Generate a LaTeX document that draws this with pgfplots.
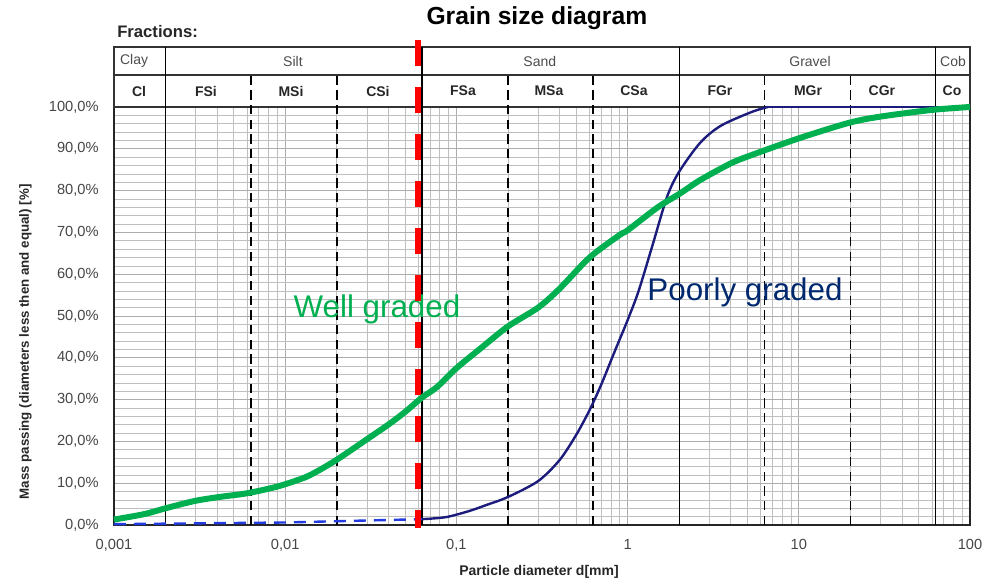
\documentclass[border=0pt]{standalone}
\usepackage{fontspec}
\setmainfont{Liberation Sans}
\usepackage{pgfplots}
\pgfplotsset{compat=1.18}
\definecolor{wgreen}{RGB}{0,176,80}
\definecolor{pnavy}{RGB}{28,28,125}
\definecolor{tnavy}{RGB}{0,40,110}
\definecolor{dblue}{RGB}{35,60,225}
\definecolor{tgray}{RGB}{70,70,70}
\begin{document}
\begin{tikzpicture}
\begin{axis}[
  at={(0,0)}, anchor=south west,
  scale only axis, width=642pt, height=313.5pt,
  xmode=log, xmin=0.001, xmax=100, ymin=0, ymax=100,
  xtick={0.001,0.01,0.1,1,10,100},
  xticklabels={{0,001},{0,01},{0,1},1,10,100},
  minor xtick={0.002,0.003,0.004,0.005,0.006,0.007,0.008,0.009,
               0.02,0.03,0.04,0.05,0.06,0.07,0.08,0.09,
               0.2,0.3,0.4,0.5,0.6,0.7,0.8,0.9,
               2,3,4,5,6,7,8,9,20,30,40,50,60,70,80,90},
  ytick={0,10,20,30,40,50,60,70,80,90,100},
  yticklabels={{0,0\%},{10,0\%},{20,0\%},{30,0\%},{40,0\%},{50,0\%},{60,0\%},{70,0\%},{80,0\%},{90,0\%},{100,0\%}},
  minor ytick={2,4,6,8,12,14,16,18,22,24,26,28,32,34,36,38,42,44,46,48,52,54,56,58,62,64,66,68,72,74,76,78,82,84,86,88,92,94,96,98},
  grid=both,
  major grid style={gray!65, line width=0.6pt},
  minor grid style={gray!50, line width=0.5pt},
  major tick length=0pt, minor tick length=0pt,
  tick label style={font=\fontsize{11}{13}\selectfont, text=tgray},
  xticklabel style={yshift=-7pt},
  yticklabel style={xshift=-8pt},
  axis line style={black!85, line width=0.8pt},
  clip=false,
]
% invisible frame that fixes the picture size
\path (rel axis cs:-0.13318,-0.13636) rectangle (rel axis cs:1.02804,1.25598);

% header table
\draw[black!80, line width=0.8pt] (axis cs:0.001,100) rectangle (axis cs:100,114.35);
\draw[black!80, line width=0.8pt] (axis cs:0.001,107.66) -- (axis cs:100,107.66);
\pgfplotsinvokeforeach{0.002,0.063,2,63}{
  \draw[black, line width=0.9pt] (axis cs:#1,0) -- (axis cs:#1,114.35);
}
\pgfplotsinvokeforeach{0.0063,0.02,0.2,0.63,6.3,20}{
  \draw[black, line width=1.2pt, dash pattern=on 7pt off 4pt] (axis cs:#1,0) -- (axis cs:#1,107.66);
}
% row 1
\node[font=\fontsize{10.5}{12}\selectfont, text=black!70] at (axis cs:0.00131,111.0) {Clay};
\node[font=\fontsize{10.5}{12}\selectfont, text=black!70] at (axis cs:0.0111,111.0) {Silt};
\node[font=\fontsize{10.5}{12}\selectfont, text=black!70] at (axis cs:0.307,111.0) {Sand};
\node[font=\fontsize{10.5}{12}\selectfont, text=black!70] at (axis cs:11.63,111.0) {Gravel};
\node[font=\fontsize{10.5}{12}\selectfont, text=black!70] at (axis cs:79.6,111.0) {Cob};
% row 2
\node[font=\bfseries\fontsize{10.5}{12}\selectfont, text=black!85] at (axis cs:0.0014,103.8) {Cl};
\node[font=\bfseries\fontsize{10.5}{12}\selectfont, text=black!85] at (axis cs:0.003447,103.8) {FSi};
\node[font=\bfseries\fontsize{10.5}{12}\selectfont, text=black!85] at (axis cs:0.01081,103.8) {MSi};
\node[font=\bfseries\fontsize{10.5}{12}\selectfont, text=black!85] at (axis cs:0.03483,103.8) {CSi};
\node[font=\bfseries\fontsize{10.5}{12}\selectfont, text=black!85] at (axis cs:0.1093,103.8) {FSa};
\node[font=\bfseries\fontsize{10.5}{12}\selectfont, text=black!85] at (axis cs:0.3474,103.8) {MSa};
\node[font=\bfseries\fontsize{10.5}{12}\selectfont, text=black!85] at (axis cs:1.090,103.8) {CSa};
\node[font=\bfseries\fontsize{10.5}{12}\selectfont, text=black!85] at (axis cs:3.465,103.8) {FGr};
\node[font=\bfseries\fontsize{10.5}{12}\selectfont, text=black!85] at (axis cs:11.32,103.8) {MGr};
\node[font=\bfseries\fontsize{10.5}{12}\selectfont, text=black!85] at (axis cs:30.6,103.8) {CGr};
\node[font=\bfseries\fontsize{10.5}{12}\selectfont, text=black!85] at (axis cs:78.5,103.8) {Co};

% curves
\addplot[dblue, line width=1.8pt, dash pattern=on 9pt off 6pt] coordinates {(0.001,0.2) (0.01,0.6) (0.063,1.4)};
\addplot[pnavy, line width=1.8pt, smooth] coordinates {
 (0.063,1.4) (0.075,1.6) (0.09,2.0) (0.12,3.4) (0.15,4.8) (0.2,6.7) (0.3,10.5)
 (0.4,15.5) (0.5,21.5) (0.6,27.5) (0.7,33.5) (0.85,42) (1,49) (1.16,56) (1.4,67)
 (1.7,78.5) (2,84.5) (2.65,91.4) (3.5,95.5) (5.3,98.8) (6.6,100)};
\addplot[pnavy, line width=1.8pt] coordinates {(6.6,100) (100,100)};
\addplot[wgreen, line width=4.5pt, smooth] coordinates {
 (0.001,1.3) (0.0015,2.6) (0.002,4.0) (0.003,5.8) (0.0043,6.8) (0.006,7.6)
 (0.009,9.2) (0.0127,11.2) (0.015,12.6) (0.02,15.6) (0.03,20.5) (0.04,24) (0.05,27)
 (0.063,30.5) (0.077,33) (0.1,37.5) (0.138,42.2) (0.2,47.5) (0.3,52) (0.4,56.5)
 (0.6,64) (0.9,69.4) (1.0,70.5) (1.5,76) (2.04,79.4) (2.65,82.5) (4,86.5)
 (5.3,88.5) (10,92.5) (19.6,96.2) (30,97.7) (60,99.3) (100,100)};

% annotations
\node[font=\fontsize{23.5}{28}\selectfont, text=wgreen, anchor=base] at (axis cs:0.03438,49.76) {Well graded};
\node[font=\fontsize{23.5}{28}\selectfont, text=tnavy, anchor=base] at (axis cs:4.85,53.66) {Poorly graded};

% red boundary
\draw[red, line width=5pt, dash pattern=on 19.5pt off 15.75pt] (axis cs:0.0597,116) -- (axis cs:0.0597,-0.7);

% titles and labels
\node[font=\bfseries\fontsize{18.5}{22}\selectfont] at (rel axis cs:0.494,1.2129) {Grain size diagram};
\node[anchor=west, inner sep=0pt, font=\bfseries\fontsize{12.5}{15}\selectfont, text=black!85] at (rel axis cs:0.0035,1.1794) {Fractions:};
\node[font=\bfseries\fontsize{10.5}{12}\selectfont, text=black!85] at (rel axis cs:0.4965,-0.1124) {Particle diameter d[mm]};
\node[rotate=90, font=\bfseries\fontsize{10}{12}\selectfont, text=black!85] at (rel axis cs:-0.1034,0.438) {Mass passing (diameters less then and equal) [\%]};
\end{axis}
\end{tikzpicture}
\end{document}
